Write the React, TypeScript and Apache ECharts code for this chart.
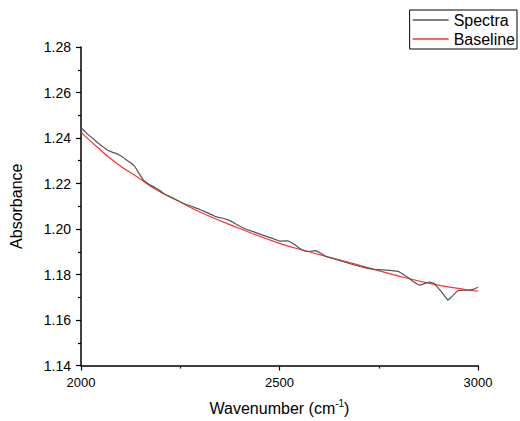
import React, { useEffect, useRef } from "react";
import * as echarts from "echarts";

const spectraX = [2000, 2008, 2017, 2030, 2042, 2055, 2067, 2080, 2093, 2105, 2117, 2126, 2134, 2141, 2147, 2153, 2159, 2172, 2185, 2198, 2210, 2226, 2243, 2260, 2275, 2290, 2299, 2315, 2330, 2341, 2360, 2374, 2390, 2404, 2416, 2437, 2458, 2480, 2500, 2521, 2535, 2551, 2567, 2580, 2592, 2605, 2617, 2638, 2659, 2680, 2702, 2722, 2744, 2760, 2778, 2799, 2812, 2828, 2840, 2853, 2865, 2878, 2890, 2907, 2924, 2937, 2949, 2965, 2978, 2990, 3000];
const spectraY = [1.2445, 1.2432, 1.2416, 1.2398, 1.2379, 1.2362, 1.2346, 1.2337, 1.2329, 1.2316, 1.23, 1.229, 1.2278, 1.226, 1.2242, 1.2226, 1.2212, 1.2196, 1.2184, 1.217, 1.2154, 1.214, 1.2125, 1.2111, 1.2102, 1.2092, 1.2086, 1.2074, 1.2062, 1.2053, 1.2046, 1.2038, 1.2022, 1.2009, 1.1999, 1.1986, 1.1973, 1.196, 1.1947, 1.1948, 1.1935, 1.1914, 1.1901, 1.1903, 1.1905, 1.1892, 1.1879, 1.1868, 1.1857, 1.1846, 1.1835, 1.1827, 1.1821, 1.182, 1.1818, 1.1814, 1.18, 1.1781, 1.1765, 1.1753, 1.176, 1.1767, 1.176, 1.1726, 1.1687, 1.1708, 1.1729, 1.1731, 1.1731, 1.1736, 1.1744];

const baselineX = [2000, 2042, 2093, 2143, 2193, 2243, 2299, 2400, 2500, 2572, 2677, 2803, 2887, 2971, 3000];
const baselineY = [1.2426, 1.2358, 1.2285, 1.2227, 1.2169, 1.2125, 1.2075, 1.2002, 1.1937, 1.1901, 1.1852, 1.1792, 1.1758, 1.1733, 1.1727];

const xMin = 2000;
const xMax = 3000;
const xInterval = 500;
const yMin = 1.14;
const yMax = 1.28;
const yInterval = 0.02;

const seriesNames = ["Spectra", "Baseline"];

export default function App() {
  const ref = useRef<HTMLDivElement>(null);
  useEffect(() => {
    if (!ref.current) return;
    const chart = echarts.init(ref.current, null, { renderer: "svg" });
    const font = "Liberation Sans, Arial, sans-serif";
    chart.setOption({
      animation: false,
      backgroundColor: "#fff",
      textStyle: { fontFamily: font },
      grid: { left: 81, right: 42, top: 47, bottom: 53, containLabel: false },
      legend: {
        data: seriesNames,
        orient: "vertical",
        right: 3,
        top: 10,
        icon: "rect",
        itemWidth: 36,
        itemHeight: 1.5,
        itemGap: 3,
        padding: [2, 2, 2, 3],
        borderColor: "#000",
        borderWidth: 1,
        borderRadius: 0,
        textStyle: { fontSize: 16, color: "#000", fontFamily: font },
      },
      xAxis: {
        type: "value",
        min: xMin,
        max: xMax,
        interval: xInterval,
        name: "Wavenumber (cm{sup|-1})",
        nameLocation: "middle",
        nameGap: 33,
        nameTextStyle: {
          fontSize: 16,
          color: "#000",
          fontFamily: font,
          rich: { sup: { fontSize: 10, verticalAlign: "bottom", padding: [0, 0, 9, 0], fontFamily: font, color: "#000" } },
        },
        axisLine: { show: true, lineStyle: { color: "#000", width: 1.5 } },
        axisTick: { show: true, inside: false, length: 5, lineStyle: { color: "#000", width: 1.2 } },
        minorTick: { show: true, splitNumber: 2, length: 3, lineStyle: { color: "#000", width: 1.2 } },
        splitLine: { show: false },
        axisLabel: { fontSize: 13, color: "#000", margin: 10, fontFamily: font, formatter: (v: number) => String(v) },
      },
      yAxis: {
        type: "value",
        min: yMin,
        max: yMax,
        interval: yInterval,
        name: "Absorbance",
        nameLocation: "middle",
        nameGap: 57,
        nameTextStyle: { fontSize: 16, color: "#000", fontFamily: font },
        axisLine: { show: true, lineStyle: { color: "#000", width: 1.5 } },
        axisTick: { show: true, inside: false, length: 5, lineStyle: { color: "#000", width: 1.2 } },
        minorTick: { show: true, splitNumber: 2, length: 3, lineStyle: { color: "#000", width: 1.2 } },
        splitLine: { show: false },
        axisLabel: { fontSize: 14, color: "#000", margin: 10, fontFamily: font, formatter: (v: number) => v.toFixed(2) },
      },
      series: [
        {
          name: seriesNames[0],
          type: "line",
          data: spectraX.map((x, i) => [x, spectraY[i]]),
          showSymbol: false,
          symbol: "none",
          lineStyle: { color: "#555", width: 1.2 },
          itemStyle: { color: "#555" },
          z: 3,
        },
        {
          name: seriesNames[1],
          type: "line",
          data: baselineX.map((x, i) => [x, baselineY[i]]),
          showSymbol: false,
          symbol: "none",
          smooth: true,
          lineStyle: { color: "#ff3030", width: 1.2 },
          itemStyle: { color: "#ff3030" },
          z: 2,
        },
      ],
    });
    return () => chart.dispose();
  }, []);
  return <div ref={ref} style={{ width: 520, height: 421, position: "fixed", left: 0, top: 0 }} />;
}
